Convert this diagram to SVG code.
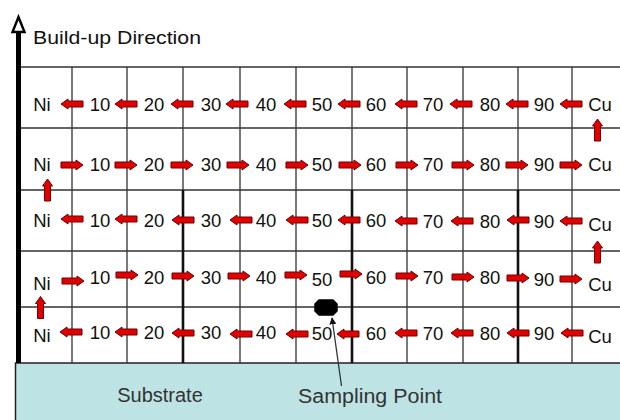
<svg xmlns="http://www.w3.org/2000/svg" width="620" height="420" viewBox="0 0 620 420">
  <style>
    .grid { stroke: #333; stroke-width: 1.3; fill: none; }
    .grid-bold { stroke: #111; stroke-width: 2.6; fill: none; }
    .lbl { font-family: "Liberation Sans", Arial, sans-serif; font-size: 18.5px; fill: #111; text-anchor: middle; }
    .sub { font-family: "Liberation Sans", Arial, sans-serif; font-size: 20px; fill: #333; text-anchor: middle; }
    .flow { fill: #e00000; stroke: #6e0000; stroke-width: 1; stroke-linejoin: miter; }
  </style>
  <defs>
    <!-- block arrow pointing left, centred on the origin -->
    <path id="arrowL" class="flow" d="M-11,0 L-4,-5 L-4,-3 L11,-3 L11,3 L-4,3 L-4,5 Z"/>
    <marker id="tip" viewBox="0 0 10 10" refX="9" refY="5" markerWidth="7" markerHeight="7" orient="auto" markerUnits="userSpaceOnUse">
      <path d="M0,0 L10,5 L0,10 Z" fill="#111"/>
    </marker>
  </defs>

  <rect width="620" height="420" fill="#fff"/>

  <!-- substrate block -->
  <g id="substrate">
    <rect x="15.5" y="363" width="610" height="60" fill="#bee3e4" stroke="#222" stroke-width="1.5"/>
    <text class="sub" x="160" y="402">Substrate</text>
  </g>

  <!-- layer grid -->
  <g id="grid">
    <path class="grid" d="M18,67 H620 M18,128 H620 M18,190 H620 M18,251 H620 M18,307 H620"/>
    <path class="grid" d="M72,67 V363 M127,67 V363 M183,67 V363 M240,67 V363 M296,67 V363 M352,67 V363 M407,67 V363 M463,67 V363 M518,67 V363 M572,67 V363"/>
    <path class="grid-bold" d="M183,190 V363 M352,190 V363 M518,190 V363"/>
  </g>

  <!-- build-up direction axis -->
  <g id="axis">
    <line x1="18.5" y1="31" x2="18.5" y2="363" stroke="#000" stroke-width="5"/>
    <polygon points="18.5,17 12.5,32 24.5,32" fill="#fff" stroke="#000" stroke-width="2.4" stroke-linejoin="miter"/>
    <text x="33" y="44" font-family="Liberation Sans, Arial, sans-serif" font-size="19" fill="#111" textLength="168" lengthAdjust="spacingAndGlyphs">Build-up Direction</text>
  </g>

  <!-- composition labels, row by row -->
  <g id="row1" class="lbl">
    <text x="42" y="110.5">Ni</text><text x="100" y="110.5">10</text><text x="154" y="110.5">20</text>
    <text x="211" y="110.5">30</text><text x="266" y="110.5">40</text><text x="322" y="110.5">50</text>
    <text x="376" y="110.5">60</text><text x="433" y="110.5">70</text><text x="490" y="110.5">80</text>
    <text x="544" y="110.5">90</text><text x="600" y="110.5">Cu</text>
  </g>
  <g id="row2" class="lbl">
    <text x="42" y="170.5">Ni</text><text x="100" y="170.5">10</text><text x="154" y="170.5">20</text>
    <text x="211" y="170.5">30</text><text x="266" y="170.5">40</text><text x="322" y="170.5">50</text>
    <text x="376" y="170.5">60</text><text x="433" y="170.5">70</text><text x="490" y="170.5">80</text>
    <text x="544" y="170.5">90</text><text x="600" y="170.5">Cu</text>
  </g>
  <g id="row3" class="lbl">
    <text x="42" y="227">Ni</text><text x="100" y="227">10</text><text x="154" y="227">20</text>
    <text x="211" y="227">30</text><text x="266" y="227">40</text><text x="322" y="227">50</text>
    <text x="376" y="227">60</text><text x="433" y="228">70</text><text x="490" y="228">80</text>
    <text x="544" y="228">90</text><text x="600" y="231">Cu</text>
  </g>
  <g id="row4" class="lbl">
    <text x="42" y="289.5">Ni</text><text x="100" y="284">10</text><text x="154" y="284">20</text>
    <text x="211" y="284">30</text><text x="266" y="284">40</text><text x="322" y="286">50</text>
    <text x="376" y="284">60</text><text x="433" y="284">70</text><text x="490" y="284">80</text>
    <text x="544" y="286">90</text><text x="600" y="291">Cu</text>
  </g>
  <g id="row5" class="lbl">
    <text x="42" y="341.5">Ni</text><text x="100" y="339">10</text><text x="154" y="339">20</text>
    <text x="211" y="339">30</text><text x="266" y="339">40</text><text x="322" y="340">50</text>
    <text x="376" y="340">60</text><text x="433" y="340">70</text><text x="490" y="340">80</text>
    <text x="544" y="340">90</text><text x="600" y="343">Cu</text>
  </g>

  <!-- sampling point -->
  <g id="sampling-point">
    <polygon points="319,300 333,300 337,304 337,311 333,315 319,315 315,311 315,304" fill="#000" stroke="#000" stroke-width="1.5" stroke-linejoin="round"/>
    <text class="sub" x="370" y="403" font-size="21" textLength="144" lengthAdjust="spacingAndGlyphs">Sampling Point</text>
  </g>

  <!-- deposition path arrows -->
  <g id="connectors">
    <!-- row 1: Cu to Ni -->
    <use href="#arrowL" x="72" y="104"/><use href="#arrowL" x="126" y="104"/><use href="#arrowL" x="182" y="104"/>
    <use href="#arrowL" x="237" y="104"/><use href="#arrowL" x="295" y="104"/><use href="#arrowL" x="349" y="104"/>
    <use href="#arrowL" x="406" y="104"/><use href="#arrowL" x="461" y="104"/><use href="#arrowL" x="517" y="104"/>
    <use href="#arrowL" x="571" y="104"/>
    <!-- up from row 2 to row 1 at Cu -->
    <use href="#arrowL" transform="translate(597.5,130) rotate(90)"/>

    <!-- row 2: Ni to Cu -->
    <g transform="translate(0,165) scale(-1,1)">
      <use href="#arrowL" x="-72"/><use href="#arrowL" x="-126"/><use href="#arrowL" x="-182"/>
      <use href="#arrowL" x="-238"/><use href="#arrowL" x="-297"/><use href="#arrowL" x="-350"/>
      <use href="#arrowL" x="-407"/><use href="#arrowL" x="-463"/><use href="#arrowL" x="-517"/>
      <use href="#arrowL" x="-571"/>
    </g>
    <!-- up from row 3 to row 2 at Ni -->
    <use href="#arrowL" transform="translate(47.5,190) rotate(90)"/>

    <!-- row 3: Cu to Ni -->
    <use href="#arrowL" x="72" y="219"/><use href="#arrowL" x="126" y="219"/><use href="#arrowL" x="183" y="220"/>
    <use href="#arrowL" x="241" y="220"/><use href="#arrowL" x="297" y="220"/><use href="#arrowL" x="349" y="220"/>
    <use href="#arrowL" x="406" y="221"/><use href="#arrowL" x="462" y="221"/><use href="#arrowL" x="518" y="220"/>
    <use href="#arrowL" x="571" y="221"/>
    <!-- up from row 4 to row 3 at Cu -->
    <use href="#arrowL" transform="translate(597.5,252) rotate(90)"/>

    <!-- row 4: Ni to Cu -->
    <g transform="scale(-1,1)">
      <use href="#arrowL" x="-73" y="281"/><use href="#arrowL" x="-127" y="275"/><use href="#arrowL" x="-183" y="276"/>
      <use href="#arrowL" x="-239" y="276"/><use href="#arrowL" x="-296" y="275"/><use href="#arrowL" x="-351" y="274"/>
      <use href="#arrowL" x="-407" y="276"/><use href="#arrowL" x="-463" y="277"/><use href="#arrowL" x="-518" y="278"/>
      <use href="#arrowL" x="-571" y="279"/>
    </g>
    <!-- up from row 5 to row 4 at Ni -->
    <use href="#arrowL" transform="translate(40.5,307.5) rotate(90)"/>

    <!-- row 5: Cu to Ni -->
    <use href="#arrowL" x="71" y="332"/><use href="#arrowL" x="126" y="332"/><use href="#arrowL" x="183" y="333"/>
    <use href="#arrowL" x="241" y="334"/><use href="#arrowL" x="297" y="334"/><use href="#arrowL" x="348" y="334"/>
    <use href="#arrowL" x="406" y="333"/><use href="#arrowL" x="462" y="333"/><use href="#arrowL" x="518" y="333"/>
    <use href="#arrowL" x="572" y="333"/>

    <!-- pointer to the sampling point -->
    <line x1="341.5" y1="386" x2="332" y2="318" stroke="#333" stroke-width="1.3" marker-end="url(#tip)"/>
  </g>
</svg>
